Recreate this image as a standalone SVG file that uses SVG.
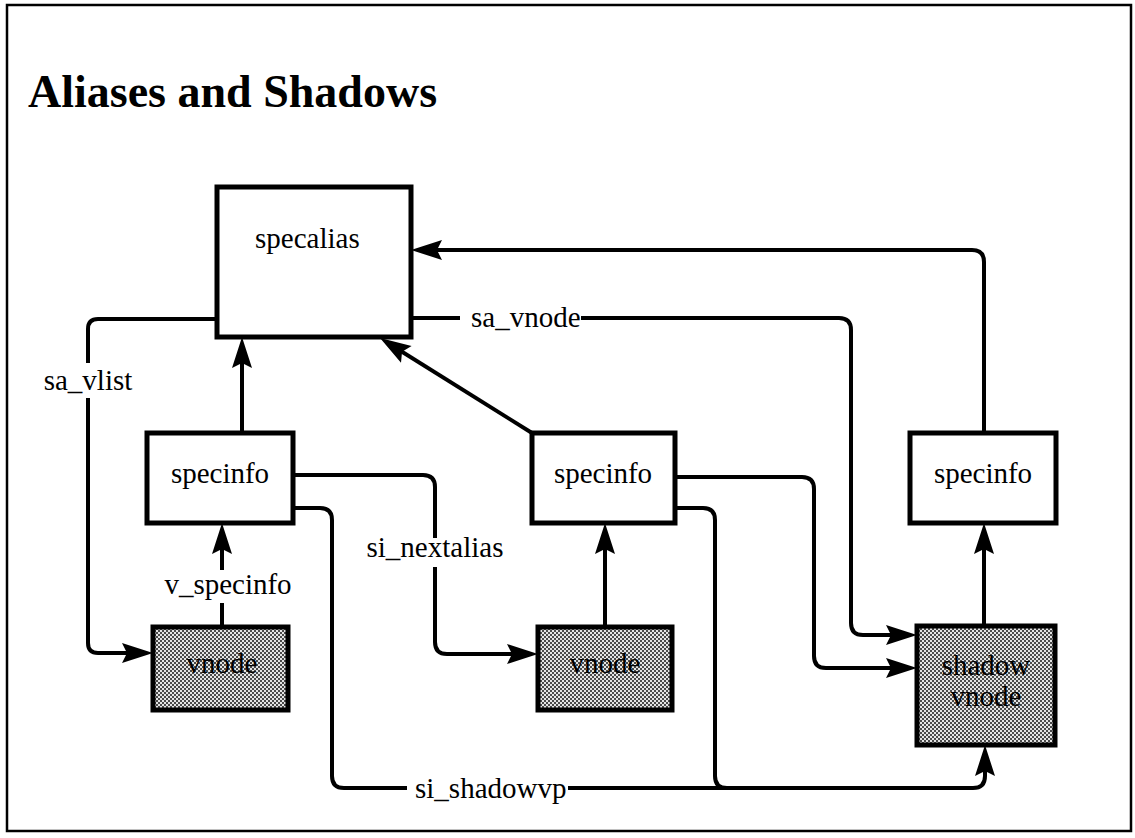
<svg xmlns="http://www.w3.org/2000/svg" width="1135" height="838" viewBox="0 0 1135 838">
<style>
text{font-family:"Liberation Serif","Times New Roman",serif;fill:#000}
.title{font-size:46px;font-weight:bold}
.lbl{font-size:29px}
.mid{text-anchor:middle}
.box{fill:#fff;stroke:#000;stroke-width:5;stroke-linejoin:miter}
.shade{fill:url(#dots);stroke:#000;stroke-width:5}
.c{fill:none;stroke:#000;stroke-width:4;stroke-linejoin:round}
.a{marker-end:url(#ah)}
</style>
<defs>
<pattern id="dots" width="4" height="4" patternUnits="userSpaceOnUse">
<rect width="4" height="4" fill="#e4e4e4"/>
<rect width="2" height="2" fill="#4a4a4a"/>
<rect x="2" y="2" width="2" height="2" fill="#4a4a4a"/>
</pattern>
<marker id="ah" markerUnits="userSpaceOnUse" markerWidth="36" markerHeight="24" viewBox="0 0 36 24" refX="24" refY="12" orient="auto">
<path d="M32,12 L1,2 L6,12 L1,22 Z" fill="#000"/>
</marker>
</defs>
<rect x="7" y="5" width="1124" height="826" fill="none" stroke="#000" stroke-width="2.5"/>
<text class="title" x="28" y="107">Aliases and Shadows</text>

<g id="connectors">
<path class="c" d="M217,319 H98 Q88,319 88,329 V363"/>
<path class="c a" d="M88,398 V643 Q88,653 98,653 H145"/>
<text class="lbl mid" x="88" y="390">sa_vlist</text>

<path class="c" d="M222,627 V603"/>
<path class="c a" d="M222,570 V531"/>
<text class="lbl mid" x="228" y="594">v_specinfo</text>

<path class="c a" d="M242,433 V345"/>
<path class="c a" d="M532,433 L386.8,342.2"/>
<path class="c a" d="M605,627 V531"/>
<path class="c a" d="M984,626 V531"/>
<path class="c a" d="M984,433 V262 Q984,250 972,250 H419"/>

<path class="c" d="M411,318 H460"/>
<path class="c a" d="M581,318 H839 Q851,318 851,330 V623 Q851,635 863,635 H909"/>
<text class="lbl" x="471" y="327">sa_vnode</text>

<path class="c" d="M293,475 H423 Q435,475 435,487 V538"/>
<path class="c a" d="M435,567 V642 Q435,654 447,654 H530"/>
<text class="lbl mid" x="435" y="557">si_nextalias</text>

<path class="c a" d="M675,477 H802 Q814,477 814,489 V656 Q814,668 826,668 H909"/>

<path class="c" d="M293,508 H320 Q332,508 332,520 V776 Q332,788 344,788 H407"/>
<path class="c a" d="M568,788 H973 Q985,788 985,776 V753"/>
<path class="c" d="M675,508 H703 Q715,508 715,520 V776 Q715,788 727,788"/>
<text class="lbl" x="415" y="798">si_shadowvp</text>
</g>

<g id="specalias">
<rect class="box" x="217" y="187" width="194" height="150"/>
<text class="lbl" x="255" y="248">specalias</text>
</g>
<g id="specinfo-left">
<rect class="box" x="147" y="433" width="146" height="90"/>
<text class="lbl mid" x="220" y="483">specinfo</text>
</g>
<g id="specinfo-middle">
<rect class="box" x="532" y="433" width="143" height="90"/>
<text class="lbl mid" x="603" y="483">specinfo</text>
</g>
<g id="specinfo-right">
<rect class="box" x="910" y="433" width="146" height="90"/>
<text class="lbl mid" x="983" y="483">specinfo</text>
</g>
<g id="vnode-left">
<rect class="shade" x="153" y="627" width="135" height="83"/>
<text class="lbl mid" x="222" y="673">vnode</text>
</g>
<g id="vnode-middle">
<rect class="shade" x="538" y="627" width="134" height="83"/>
<text class="lbl mid" x="605" y="673">vnode</text>
</g>
<g id="shadow-vnode">
<rect class="shade" x="917" y="626" width="138" height="119"/>
<text class="lbl mid" x="986" y="675">shadow</text>
<text class="lbl mid" x="986" y="706">vnode</text>
</g>
</svg>
